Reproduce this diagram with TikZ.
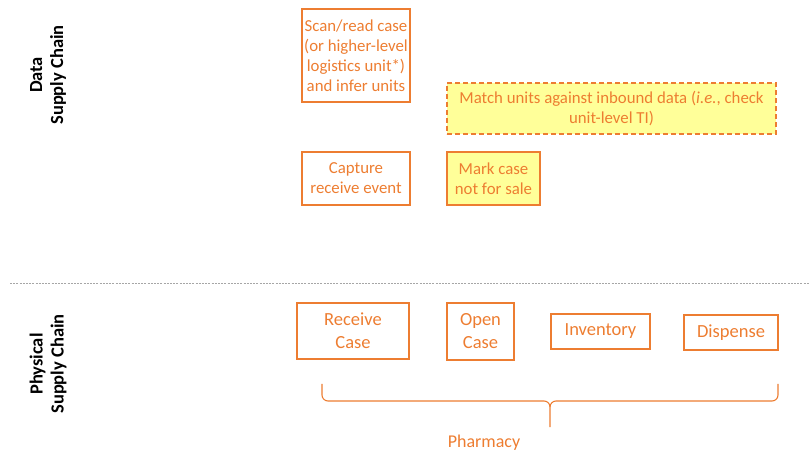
\documentclass[tikz,border=0pt]{standalone}
\usepackage{fontspec}
\setmainfont{Carlito}
\definecolor{accent}{HTML}{ED7D31}
\definecolor{flag}{HTML}{FFFF99}
\begin{document}
\begin{tikzpicture}[x=1pt,y=-1pt,
  stepbox/.style={draw=accent,line width=1.3pt,text=accent,align=center,inner sep=0pt,
    font=\fontsize{16.8}{20}\selectfont},
  physbox/.style={stepbox,font=\fontsize{18.5}{23}\selectfont},
  flagbox/.style={stepbox,fill=flag},
  lane/.style={rotate=90,align=center,font=\bfseries\fontsize{18.5}{21}\selectfont}]
\useasboundingbox (0,0) rectangle (809,454);

% lane titles
\node[lane] (datalane) at (48,75) {Data\\Supply Chain};
\node[lane] (physlane) at (48,364) {Physical\\Supply Chain};

% data supply chain steps
\node[stepbox,minimum width=108pt,minimum height=93pt] (scan) at (356,55.5)
  {Scan/read case\\(or higher-level\\logistics unit*)\\and infer units};
\node[flagbox,dashed,dash pattern=on 5pt off 3pt,minimum width=329pt,minimum height=51pt] (match) at (611.5,108.5)
  {Match units against inbound data (\textit{i.e.}, check\\unit-level TI)};
\node[stepbox,minimum width=108pt,minimum height=53pt] (capture) at (356,178.5)
  {Capture\\receive event};
\node[flagbox,minimum width=93pt,minimum height=53pt] (mark) at (493.5,178.5)
  {Mark case\\not for sale};

% lane separator
\coordinate (sepL) at (10,283);
\coordinate (sepR) at (809,283);
\draw[gray!70,line width=0.6pt,dash pattern=on 2pt off 1.2pt] (sepL) -- (sepR);

% physical supply chain steps
\node[physbox,minimum width=112pt,minimum height=56pt] (receive) at (353,331) {Receive\\Case};
\node[physbox,minimum width=67pt,minimum height=57pt] (open) at (480.5,331.5) {Open\\Case};
\node[physbox,minimum width=99pt,minimum height=35pt] (inventory) at (600.5,331.5) {Inventory};
\node[physbox,minimum width=94pt,minimum height=35pt] (dispense) at (731,332.5) {Dispense};

% brace grouping the pharmacy steps
\coordinate (bl) at (322,384);
\coordinate (br) at (778,384);
\coordinate (btip) at (550,427);
\draw[accent,line width=1.1pt]
  (bl) -- (322,395) to[out=-90,in=180] (328,401) -- (544,401) to[out=0,in=90] (550,407) -- (btip);
\draw[accent,line width=1.1pt]
  (br) -- (778,395) to[out=-90,in=0] (772,401) -- (556,401) to[out=180,in=90] (550,407);
\node[text=accent,font=\fontsize{18}{20}\selectfont] (pharmacy) at (484,443) {Pharmacy};
\end{tikzpicture}
\end{document}
